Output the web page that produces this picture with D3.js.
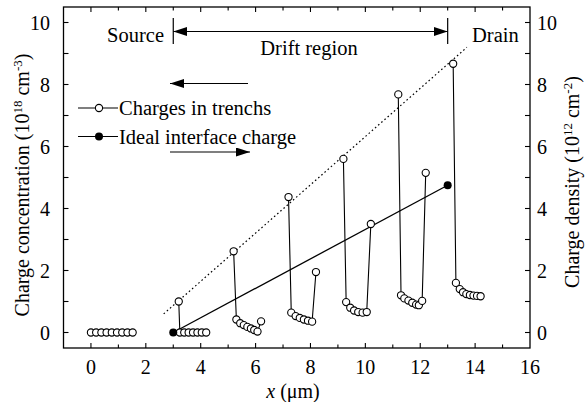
<!DOCTYPE html>
<html>
<head>
<meta charset="utf-8">
<script src="https://cdn.jsdelivr.net/npm/d3@7"></script>
<style>
  html, body { margin: 0; padding: 0; background: #fff; }
  svg { display: block; font-family: "Liberation Serif", "Times New Roman", serif; }
</style>
</head>
<body>
<svg id="chart" width="587" height="402"></svg>
<script>
// Charge profile along the drift region: trench charges vs. ideal interface charge
const xTicks = [0, 2, 4, 6, 8, 10, 12, 14, 16];
const yTicks = [0, 2, 4, 6, 8, 10];

// Charges in trenches, one polyline per trench segment [x (um), charge (1e18 cm^-3)]
const trench0 = [[0.0,0],[0.19,0],[0.38,0],[0.57,0],[0.76,0],[0.95,0],[1.14,0],[1.33,0],[1.52,0]];
const trench1 = [[3.2,1.0],[3.24,0],[3.4,0],[3.56,0],[3.72,0],[3.88,0],[4.04,0],[4.2,0]];
const trench2 = [[5.2,2.62],[5.3,0.42],[5.44,0.3],[5.57,0.24],[5.7,0.18],[5.83,0.13],[5.95,0.08],[6.07,0.03],[6.2,0.36]];
const trench3 = [[7.2,4.37],[7.3,0.64],[7.46,0.53],[7.61,0.47],[7.76,0.42],[7.91,0.38],[8.06,0.35],[8.2,1.95]];
const trench4 = [[9.2,5.6],[9.3,0.98],[9.45,0.8],[9.59,0.71],[9.74,0.66],[9.9,0.64],[10.05,0.66],[10.2,3.5]];
const trench5 = [[11.2,7.68],[11.3,1.2],[11.42,1.1],[11.57,1.03],[11.71,0.96],[11.85,0.9],[11.95,0.88],[12.07,1.02],[12.2,5.15]];
const trench6 = [[13.2,8.67],[13.3,1.6],[13.44,1.4],[13.56,1.3],[13.68,1.24],[13.81,1.21],[13.94,1.19],[14.07,1.18],[14.2,1.17]];
const trenchSeries = [trench0, trench1, trench2, trench3, trench4, trench5, trench6];

// Ideal interface charge (linear from source to drain)
const idealCharge = [[3.0,0],[13.0,4.75]];
// Envelope of the trench peaks (dotted)
const peakEnvelope = [[2.65,0.6],[13.7,9.2]];

const svg = d3.select("#chart");
const plotL = 63.5, plotR = 530, plotT = 7, plotB = 348;
const x = d3.scaleLinear().domain([-1, 16]).range([plotL, plotR]);
const y = d3.scaleLinear().domain([-0.5, 10.5]).range([plotB, plotT]);

const ink = "#000";
const fs = 20;

// Frame
svg.append("rect").attr("x", plotL).attr("y", plotT)
  .attr("width", plotR - plotL).attr("height", plotB - plotT)
  .attr("fill", "none").attr("stroke", ink).attr("stroke-width", 1.3);

// Inward ticks on all four sides
const xAll = d3.range(0, 16, 1);
const yAll = d3.range(0, 11, 1);
const tickG = svg.append("g").attr("stroke", ink).attr("stroke-width", 1.1);
xAll.forEach(v => {
  const len = v % 2 === 0 ? 5 : 3.5;
  tickG.append("line").attr("x1", x(v)).attr("x2", x(v)).attr("y1", plotB).attr("y2", plotB - len);
  tickG.append("line").attr("x1", x(v)).attr("x2", x(v)).attr("y1", plotT).attr("y2", plotT + len);
});
yAll.forEach(v => {
  const len = 5;
  tickG.append("line").attr("x1", plotL).attr("x2", plotL + len).attr("y1", y(v)).attr("y2", y(v));
  tickG.append("line").attr("x1", plotR).attr("x2", plotR - len).attr("y1", y(v)).attr("y2", y(v));
});

// Tick labels
svg.append("g").selectAll("text").data(xTicks).join("text")
  .attr("x", d => x(d)).attr("y", 374).attr("text-anchor", "middle")
  .attr("font-size", fs).text(d => d);
svg.append("g").selectAll("text").data(yTicks).join("text")
  .attr("x", 50).attr("y", d => y(d) + 7).attr("text-anchor", "end")
  .attr("font-size", fs).text(d => d);
svg.append("g").selectAll("text").data(yTicks).join("text")
  .attr("x", 537).attr("y", d => y(d) + 7).attr("text-anchor", "start")
  .attr("font-size", fs).text(d => d);

// Axis titles
const xt = svg.append("text").attr("x", 293).attr("y", 397.5).attr("text-anchor", "middle").attr("font-size", fs);
xt.append("tspan").attr("font-style", "italic").text("x");
xt.append("tspan").text(" (μm)");

function yTitle(tx, ty, main, exp1, mid, exp2) {
  const t = svg.append("text").attr("transform", `translate(${tx},${ty}) rotate(-90)`)
    .attr("text-anchor", "middle").attr("font-size", fs);
  t.append("tspan").text(main);
  t.append("tspan").attr("font-size", 13).attr("dy", -7.5).text(exp1);
  t.append("tspan").attr("dy", 7.5).text(mid);
  t.append("tspan").attr("font-size", 13).attr("dy", -7.5).text(exp2);
  t.append("tspan").attr("dy", 7.5).text(")");
}
yTitle(29, 185, "Charge concentration (10", "18", " cm", "-3");
yTitle(579, 182, "Charge density (10", "12", " cm", "-2");

// Arrowhead marker
const defs = svg.append("defs");
defs.append("marker").attr("id", "head").attr("viewBox", "0 0 14 9")
  .attr("refX", 14).attr("refY", 4.5).attr("markerWidth", 14).attr("markerHeight", 9)
  .attr("markerUnits", "userSpaceOnUse").attr("orient", "auto-start-reverse")
  .append("path").attr("d", "M0,0 L14,4.5 L0,9 Z").attr("fill", ink);

// Drift region annotation
const annY = 31.5;
svg.append("line").attr("x1", x(3)).attr("x2", x(3)).attr("y1", 18).attr("y2", 44)
  .attr("stroke", ink).attr("stroke-width", 1.2);
svg.append("line").attr("x1", x(13)).attr("x2", x(13)).attr("y1", 18).attr("y2", 44)
  .attr("stroke", ink).attr("stroke-width", 1.2);
svg.append("line").attr("x1", x(3)).attr("x2", x(13)).attr("y1", annY).attr("y2", annY)
  .attr("stroke", ink).attr("stroke-width", 1.2)
  .attr("marker-start", "url(#head)").attr("marker-end", "url(#head)");
svg.append("text").attr("x", 164).attr("y", 42).attr("text-anchor", "end").attr("font-size", 20.5).text("Source");
svg.append("text").attr("x", 309).attr("y", 55).attr("text-anchor", "middle").attr("font-size", 20.5).text("Drift region");
svg.append("text").attr("x", 472).attr("y", 42).attr("text-anchor", "start").attr("font-size", 20.5).text("Drain");

// Direction arrows
svg.append("line").attr("x1", 248).attr("x2", 170).attr("y1", 83.5).attr("y2", 83.5)
  .attr("stroke", ink).attr("stroke-width", 1.2).attr("marker-end", "url(#head)");
svg.append("line").attr("x1", 170).attr("x2", 250).attr("y1", 152).attr("y2", 152)
  .attr("stroke", ink).attr("stroke-width", 1.2).attr("marker-end", "url(#head)");

// Data lines
const line = d3.line().x(d => x(d[0])).y(d => y(d[1]));
svg.append("path").datum(peakEnvelope).attr("d", line)
  .attr("fill", "none").attr("stroke", ink).attr("stroke-width", 1.2).attr("stroke-dasharray", "1.6,2.6");
svg.append("path").datum(idealCharge).attr("d", line)
  .attr("fill", "none").attr("stroke", ink).attr("stroke-width", 1.3);

const r = 3.6;
trenchSeries.forEach(seg => {
  svg.append("path").datum(seg).attr("d", line)
    .attr("fill", "none").attr("stroke", ink).attr("stroke-width", 1.1);
  svg.append("g").selectAll("circle").data(seg).join("circle")
    .attr("cx", d => x(d[0])).attr("cy", d => y(d[1])).attr("r", r)
    .attr("fill", "#fff").attr("stroke", ink).attr("stroke-width", 1.1);
});
svg.append("g").selectAll("circle").data(idealCharge).join("circle")
  .attr("cx", d => x(d[0])).attr("cy", d => y(d[1])).attr("r", 4)
  .attr("fill", ink);

// Legend
const lg = svg.append("g");
lg.append("line").attr("x1", 78).attr("x2", 118).attr("y1", 108).attr("y2", 108).attr("stroke", ink).attr("stroke-width", 1.2);
lg.append("circle").attr("cx", 99).attr("cy", 108).attr("r", 3.6).attr("fill", "#fff").attr("stroke", ink).attr("stroke-width", 1.1);
lg.append("text").attr("x", 119).attr("y", 115).attr("font-size", 20.5).text("Charges in trenchs");
lg.append("line").attr("x1", 78).attr("x2", 118).attr("y1", 136.5).attr("y2", 136.5).attr("stroke", ink).attr("stroke-width", 1.2);
lg.append("circle").attr("cx", 99).attr("cy", 136.5).attr("r", 4).attr("fill", ink);
lg.append("text").attr("x", 119).attr("y", 143.5).attr("font-size", 20.5).text("Ideal interface charge");
</script>
</body>
</html>
